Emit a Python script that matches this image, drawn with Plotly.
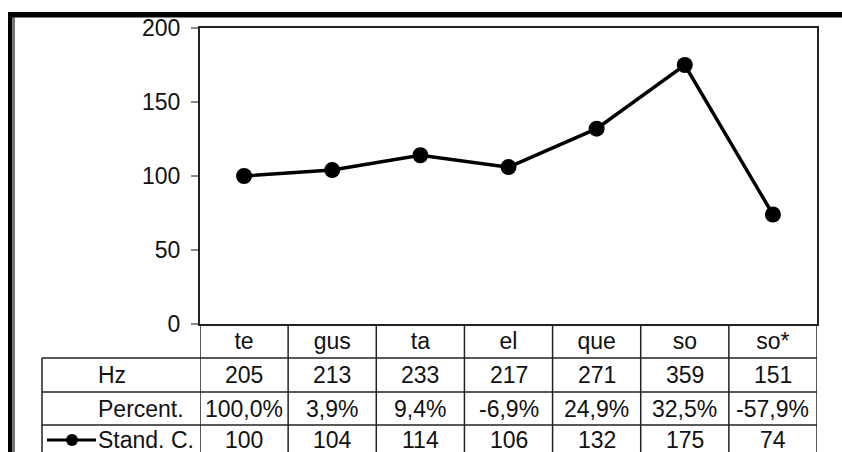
import plotly.graph_objects as go

# values
categories = ["te", "gus", "ta", "el", "que", "so", "so*"]
hz = ["205", "213", "233", "217", "271", "359", "151"]
percent = ["100,0%", "3,9%", "9,4%", "-6,9%", "24,9%", "32,5%", "-57,9%"]
stand_c = [100, 104, 114, 106, 132, 175, 74]
row_labels = ["Hz", "Percent.", "Stand. C."]
y_ticks = [0, 50, 100, 150, 200]

W, H = 842, 452
L, T = 200, 28
PW, PH = 617, 296
R, B = W - L - PW, H - T - PH
FONT = "Liberation Sans, Arial, sans-serif"
FS = 23


def px_x(x):
    return (x - L) / PW


def px_y(y):
    return (T + PH - y) / PH


fig = go.Figure()
fig.add_trace(go.Scatter(
    x=list(range(len(categories))),
    y=stand_c,
    mode="lines+markers",
    line=dict(color="black", width=3.5),
    marker=dict(color="black", size=16),
    showlegend=False,
    cliponaxis=False,
))

shapes = []
annotations = []
line_col = "#222"

# table rows (pixel positions of the horizontal rules)
rows_y = [358, 392, 425]
bottom = 470
table_left = px_x(42)

for y in rows_y:
    shapes.append(dict(type="line", xref="paper", yref="paper",
                       x0=table_left, x1=1, y0=px_y(y), y1=px_y(y),
                       line=dict(color=line_col, width=1.5)))
for i in range(len(categories) + 1):
    shapes.append(dict(type="line", xref="x", yref="paper",
                       x0=i - 0.5, x1=i - 0.5, y0=0, y1=px_y(bottom),
                       line=dict(color=line_col, width=1.5)))
shapes.append(dict(type="line", xref="paper", yref="paper",
                   x0=table_left, x1=table_left, y0=px_y(rows_y[0]), y1=px_y(bottom),
                   line=dict(color=line_col, width=1.5)))

# table cell text
row_centers = [(rows_y[0] + rows_y[1]) / 2, (rows_y[1] + rows_y[2]) / 2,
               rows_y[2] + 15]
for values, yc in zip([hz, percent, [str(v) for v in stand_c]], row_centers):
    for i, v in enumerate(values):
        annotations.append(dict(x=i, y=px_y(yc), xref="x", yref="paper",
                                xanchor="center", yanchor="middle",
                                text=v, showarrow=False,
                                font=dict(family=FONT, size=FS, color="#111")))
for lab, yc in zip(row_labels, row_centers):
    annotations.append(dict(x=px_x(96), y=px_y(yc), xref="paper", yref="paper",
                            xanchor="left", yanchor="middle",
                            text=lab, showarrow=False,
                            font=dict(family=FONT, size=FS, color="#111")))

# legend key in last row
ky = px_y(row_centers[2])
shapes.append(dict(type="line", xref="paper", yref="paper",
                   x0=px_x(47), x1=px_x(96), y0=ky, y1=ky,
                   line=dict(color="black", width=3)))
shapes.append(dict(type="circle", xref="paper", yref="paper",
                   xsizemode="pixel", ysizemode="pixel",
                   xanchor=px_x(72), yanchor=ky,
                   x0=-6, x1=6, y0=-6, y1=6,
                   fillcolor="black", line=dict(color="black", width=0)))

# outer frame
shapes.append(dict(type="rect", xref="paper", yref="paper",
                   x0=px_x(8), x1=px_x(845), y0=px_y(12), y1=px_y(17.5),
                   fillcolor="black", line=dict(width=0), layer="above"))
shapes.append(dict(type="rect", xref="paper", yref="paper",
                   x0=px_x(8), x1=px_x(12.5), y0=px_y(12), y1=px_y(bottom),
                   fillcolor="black", line=dict(width=0), layer="above"))
shapes.append(dict(type="line", xref="paper", yref="paper",
                   x0=px_x(14), x1=px_x(14), y0=px_y(17), y1=px_y(bottom),
                   line=dict(color="#444", width=1.5)))

fig.update_layout(
    width=W, height=H,
    margin=dict(l=L, r=R, t=T, b=B, pad=0),
    paper_bgcolor="white", plot_bgcolor="white",
    font=dict(family=FONT, size=FS, color="#111"),
    shapes=shapes,
    annotations=annotations,
    xaxis=dict(
        range=[-0.5, len(categories) - 0.5],
        tickmode="array", tickvals=list(range(len(categories))), ticktext=categories,
        ticks="", showgrid=False, zeroline=False,
        showline=True, linecolor="#222", linewidth=2, mirror=True,
        tickfont=dict(family=FONT, size=FS, color="#111"),
        ticklabelstandoff=-5,
    ),
    yaxis=dict(
        range=[0, 200], tickvals=y_ticks,
        ticks="outside", ticklen=7, tickcolor="#888", tickwidth=2,
        showgrid=False, zeroline=False,
        showline=True, linecolor="#222", linewidth=2, mirror=True,
        tickfont=dict(family=FONT, size=FS, color="#111"),
        ticklabelstandoff=6,
    ),
)

# drop the default page margin so the figure sits at the window's corner
fig.write_html("out.html", config={"displayModeBar": False},
               post_script="document.body.style.margin='0';document.body.style.overflow='hidden';")
